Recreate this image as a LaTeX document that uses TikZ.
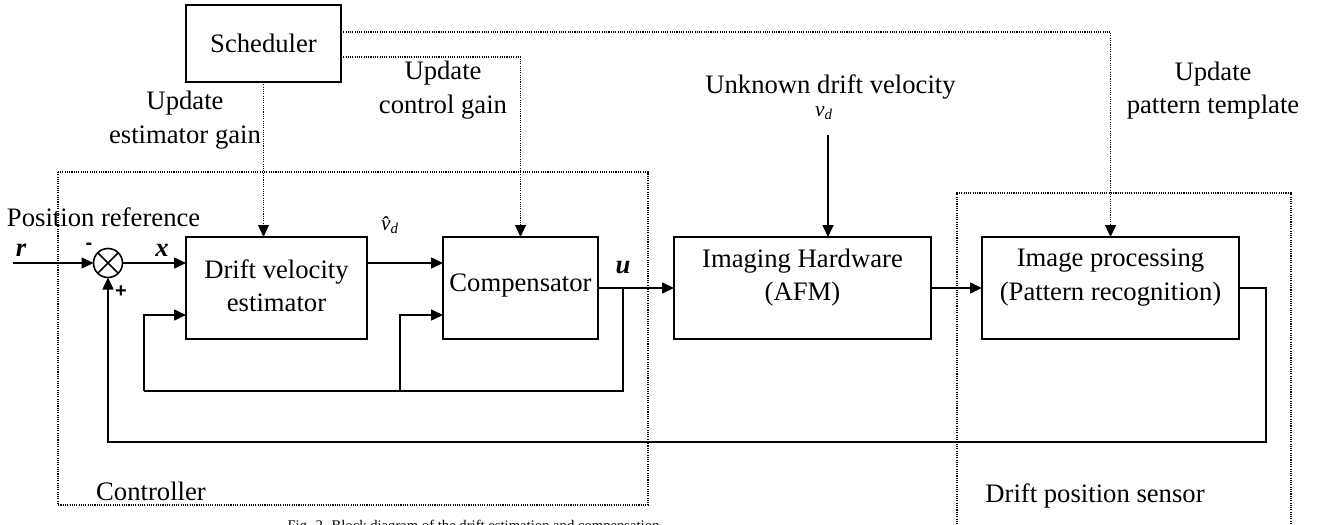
\documentclass[tikz,border=0pt]{standalone}
\usepackage{fontspec}
\setmainfont{Liberation Serif}
\newfontfamily\signfont{Liberation Sans}
\usetikzlibrary{arrows.meta}

\begin{document}
\begin{tikzpicture}[x=0.75pt,y=-0.75pt,
  >={Triangle[length=9pt,width=8.25pt]},
  every node/.style={inner sep=0pt,outer sep=0pt},
  lbl/.style={font=\fontsize{20}{25}\selectfont,align=center},
  blk/.style={draw,line width=1.3pt,minimum height=102*0.75pt},
  sig/.style={line width=1.2pt},
  sigarrow/.style={sig,->},
  upd/.style={line width=0.9pt,dash pattern=on 0.8pt off 0.9pt},
  updarrow/.style={upd,->},
  region/.style={line width=0.9pt,dash pattern=on 0.8pt off 0.9pt},
  var/.style={font=\fontsize{20}{24}\selectfont\bfseries\itshape},
  sym/.style={font=\fontsize{16}{18}\selectfont\itshape},
  sign/.style={font=\fontsize{15}{18}\selectfont\signfont\bfseries}]

\useasboundingbox (0,0) rectangle (1322,525);
\clip (0,0) rectangle (1322,525);

% controller and sensor regions
\draw[region] (58,172) rectangle (648,505);
\draw[region] (957,540) -- (957,193) -- (1291,193) -- (1291,540);

% blocks
\node[draw,line width=1.3pt,minimum width=155*0.75pt,minimum height=77*0.75pt,
      font=\fontsize{20}{24}\selectfont] (sched) at (263.5,43.5) {Scheduler};
\node[blk,minimum width=181*0.75pt] (est) at (276.5,288) {};
\node[lbl] (esttxt) at (276.5,285.5) {Drift velocity\\estimator};
\node[blk,minimum width=155*0.75pt] (comp) at (520.5,288) {};
\node[lbl] (comptxt) at (520.5,286) {Compensator};
\node[blk,minimum width=257*0.75pt] (afm) at (802.5,288) {};
\node[lbl] (afmtxt) at (802.5,277.5) {Imaging Hardware\\(AFM)};
\node[blk,minimum width=257*0.75pt] (imp) at (1110.5,288) {};
\node[lbl] (imptxt) at (1110.5,277.5) {Image processing\\(Pattern recognition)};

% summing junction
\node[draw,circle,line width=1.2pt,minimum size=29*0.75pt] (sum) at (108,263) {};
\draw[line width=1.1pt] (sum.north west) -- (sum.south east)
                        (sum.north east) -- (sum.south west);

% text labels
\node[lbl,anchor=west] (posref) at (7,217) {Position reference};
\node[lbl] (updest) at (185,120) {Update\\estimator gain};
\node[lbl] (updctl) at (443,90) {Update\\control gain};
\node[lbl] (unk) at (830.5,87) {Unknown drift velocity};
\node[lbl] (updpat) at (1213,90.5) {Update\\pattern template};
\node[lbl] (ctrl) at (151,491) {Controller};
\node[lbl] (sens) at (1095,496) {Drift position sensor};
\node[sym] (vd) at (824,113) {v\textsubscript{d}};
\node[sym] (vhat) at (390,225) {\^{v}\textsubscript{d}};
\node[var] (rlab) at (21,250) {r};
\node[var] (xlab) at (162,250) {x};
\node[var] (ulab) at (623,268) {u};
\node[sign] (minus) at (89,246) {-};
\node[sign] (plus) at (121,292) {+};
\node[font=\fontsize{11}{13}\selectfont,anchor=base] (cap) at (473.5,530)
  {Fig. 2. Block diagram of the drift estimation and compensation};

% free ends and branch points
\coordinate (rin) at (13,263);
\coordinate (vdin) at (828,135);
\coordinate (ubr) at (623,288);
\coordinate (loopA) at (144,391);
\coordinate (loopB) at (400,391);
\coordinate (fbR) at (1266,288);
\coordinate (fbLow) at (1266,442);

% forward path
\draw[sigarrow] (rin) -- (sum.west);
\draw[sigarrow] (sum.east) -- (sum.east -| est.west);
\draw[sigarrow] (est.east |- sum) -- (comp.west |- sum);
\draw[sigarrow] (comp.east) -- (afm.west);
\draw[sigarrow] (afm.east) -- (imp.west);
\draw[sigarrow] (vdin) -- (vdin |- afm.north);

% inner loops from u
\draw[sig] (ubr) -- (ubr |- loopA) -- (loopA);
\draw[sigarrow] (loopA) -- (loopA |- 0,315) -- (est.west |- 0,315);
\draw[sigarrow] (loopB) -- (loopB |- 0,315) -- (comp.west |- 0,315);

% outer feedback from the sensor
\draw[sigarrow] (imp.east) -- (fbR) -- (fbLow) -- (fbLow -| sum.south) -- (sum.south);

% scheduler updates
\draw[updarrow] (sched.south) -- (sched.south |- est.north);
\draw[updarrow] (sched.east |- 0,57) -- (comp.north |- 0,57) -- (comp.north);
\draw[updarrow] (sched.east |- 0,32) -- (imp.north |- 0,32) -- (imp.north);

\end{tikzpicture}
\end{document}
